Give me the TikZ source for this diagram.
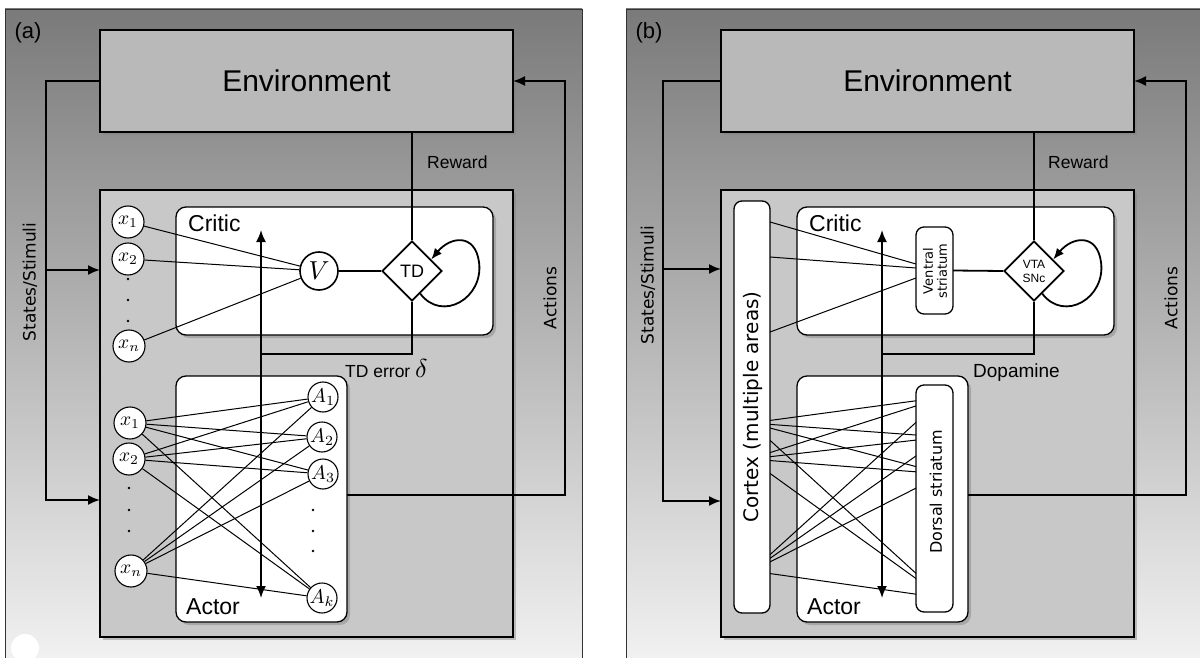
\documentclass[tikz,border=0pt]{standalone}
\usepackage{fontspec}
\newfontfamily\hv{Liberation Sans}
\newfontfamily\dv{DejaVu Sans}
\usetikzlibrary{arrows.meta,shapes.geometric,shadows,calc}
\definecolor{frametop}{HTML}{7A7A7A}
\definecolor{framebot}{HTML}{F5F5F5}
\definecolor{envfill}{HTML}{B9B9B9}
\definecolor{agentfill}{HTML}{C8C8C8}
\newcommand{\mbig}[2]{\scalebox{#1}{$#2$}}
\begin{document}
\begin{tikzpicture}[x=1pt,y=-1pt,
  shadowed/.style={drop shadow={shadow xshift=3pt,shadow yshift=-3pt,opacity=0.45}},
  envbox/.style={draw,line width=1.2pt,fill=envfill,shadowed,minimum width=413pt,minimum height=102pt,inner sep=0pt,outer sep=0pt,font=\hv\fontsize{30}{32}\selectfont},
  agentbox/.style={draw,line width=1.3pt,fill=agentfill,shadowed,inner sep=0pt,outer sep=0pt,minimum width=413pt,minimum height=447pt},
  panelbox/.style={draw,line width=1.3pt,fill=white,rounded corners=10pt,shadowed,inner sep=0pt,outer sep=0pt},
  roundbox/.style={draw,line width=1.3pt,fill=white,rounded corners=8pt,inner sep=0pt,outer sep=0pt},
  lbl/.style={inner sep=0pt,font=\hv\fontsize{23}{25}\selectfont},
  smlbl/.style={inner sep=0pt,font=\hv\fontsize{17.5}{19}\selectfont},
  sidelbl/.style={inner sep=0pt,rotate=90,font=\dv\fontsize{17}{19}\selectfont},
  xnode/.style={circle,draw,line width=1.1pt,fill=white,minimum size=32pt,inner sep=0pt,font=\fontsize{10}{12}\selectfont},
  anode/.style={circle,draw,line width=1.1pt,fill=white,minimum size=30pt,inner sep=0pt,font=\fontsize{10}{12}\selectfont},
  vnode/.style={circle,draw,line width=1.6pt,fill=white,minimum size=38pt,inner sep=0pt,font=\fontsize{10}{12}\selectfont},
  dnode/.style={diamond,draw,line width=1.8pt,fill=white,minimum width=60pt,minimum height=60pt,inner sep=0pt,aspect=1},
  med/.style={line width=1.8pt},
  thinl/.style={line width=1pt},
  tip/.style={-{Latex[length=12pt,width=10pt]}},
  looptip/.style={-{Latex[length=11pt,width=9pt]}},
  dtip/.style={{Latex[length=12pt,width=10pt]}-{Latex[length=12pt,width=10pt]}}
]
\useasboundingbox (0,0) rectangle (1200,658);
\clip (0,0) rectangle (1200,658);
\fill[white] (0,0) rectangle (1200,658);

% ---------- frames ----------
\shade[top color=frametop,bottom color=framebot] (5,9) rectangle (582,680);
\draw[line width=0.9pt,black!80] (5,9) rectangle (582,680);
\shade[top color=frametop,bottom color=framebot] (626,9) rectangle (1203,680);
\draw[line width=0.9pt,black!80] (626,9) rectangle (1203,680);
\fill[white] (25,648) circle (14);

\node[inner sep=0pt,font=\hv\fontsize{22}{24}\selectfont] (labA) at (28,33) {(a)};
\node[inner sep=0pt,font=\hv\fontsize{22}{24}\selectfont] (labB) at (649,33) {(b)};

% ================= PANEL A =================
\node[envbox] (envA) at (306.5,81) {Environment};
\node[agentbox] (agentA) at (306.5,413.5) {};
\node[panelbox,minimum width=317pt,minimum height=128pt] (criticA) at (334.5,271) {};
\node[panelbox,minimum width=171pt,minimum height=246pt] (actorA) at (261.5,499) {};
\node[lbl,anchor=base west] (criticAl) at (188,231) {Critic};
\node[lbl,anchor=base west] (actorAl) at (186,614) {Actor};

% feedback lines
\coordinate (inA1) at (100,270);
\coordinate (inA2) at (100,500);
\coordinate (cA) at (46,500);
\draw[med,tip] (envA.west) -| (cA) -- (inA2);
\draw[med,tip] (cA |- inA1) -- (inA1);
\coordinate (outA) at (347,495);
\coordinate (rA) at (565,495);
\draw[med,tip] (outA) -- (rA) |- (envA.east);
\node[sidelbl] (ssA) at (30,282) {States/Stimuli};
\node[sidelbl] (acA) at (550,298) {Actions};

% critic
\node[xnode] (cxA1) at (128,222) {\mbig{1.95}{x_1}};
\node[xnode] (cxA2) at (128,259) {\mbig{1.95}{x_2}};
\node[xnode] (cxAn) at (129,346) {\mbig{1.95}{x_n}};
\foreach \yy in {279,300,321} \fill (128,\yy) circle (1.3);
\node[vnode] (vA) at (319,271) {\mbig{2.6}{V}};
\node[dnode,font=\hv\fontsize{18}{20}\selectfont] (tdA) at (412,271) {TD};
\draw[thinl] (cxA1) -- (vA);
\draw[thinl] (cxA2) -- (vA);
\draw[thinl] (cxAn) -- (vA);
\draw[med] (vA) -- (tdA);
\draw[med] (envA.south -| tdA) -- (tdA.north);
\node[smlbl,anchor=base west] (rewA) at (427,168) {Reward};
\coordinate (loopA) at (479,262);
\draw[med,looptip] (tdA.-70) .. controls +(22,29) and +(5,36) .. (loopA) .. controls +(-4,-29) and +(19,-23) .. (tdA.31);

% actor
\node[xnode] (axA1) at (130,423) {\mbig{1.95}{x_1}};
\node[xnode] (axA2) at (129,459) {\mbig{1.95}{x_2}};
\node[xnode] (axAn) at (131,571) {\mbig{1.95}{x_n}};
\foreach \yy in {488,510,531} \fill (129,\yy) circle (1.3);
\node[anode] (aA1) at (323,397) {\mbig{2.0}{A_1}};
\node[anode] (aA2) at (322,437) {\mbig{2.0}{A_2}};
\node[anode] (aA3) at (323,474) {\mbig{2.0}{A_3}};
\node[anode] (aAk) at (322,598) {\mbig{2.0}{A_k}};
\foreach \yy in {510,531,551} \fill (313,\yy) circle (1.3);
\foreach \s in {axA1,axA2,axAn}
  \foreach \t in {aA1,aA2,aA3,aAk}
    \draw[thinl] (\s) -- (\t);

% TD error and vertical arrow
\coordinate (vtA) at (261,230);
\coordinate (vbA) at (261,598);
\coordinate (tdjA) at (261,354);
\draw[med] (tdA.south) |- (tdjA);
\draw[med,dtip] (vbA) -- (vtA);
\node[smlbl,anchor=base west] (tdeA) at (345,377) {TD error {\fontsize{10}{12}\selectfont\mbig{2.6}{\delta}}};

% ================= PANEL B =================
\node[envbox] (envB) at (927.5,81) {Environment};
\node[agentbox] (agentB) at (927.5,413.5) {};
\node[panelbox,minimum width=317pt,minimum height=128pt] (criticB) at (955.5,271) {};
\node[panelbox,minimum width=171pt,minimum height=246pt] (actorB) at (882.5,499) {};
\node[lbl,anchor=base west] (criticBl) at (809,231) {Critic};
\node[lbl,anchor=base west] (actorBl) at (807,614) {Actor};

% feedback lines
\coordinate (inB1) at (721,269);
\coordinate (inB2) at (721,501);
\coordinate (cB) at (663,501);
\draw[med,tip] (envB.west) -| (cB) -- (inB2);
\draw[med,tip] (cB |- inB1) -- (inB1);
\coordinate (outB) at (968,495);
\coordinate (rB) at (1186,495);
\draw[med,tip] (outB) -- (rB) |- (envB.east);
\node[sidelbl] (ssB) at (648,285) {States/Stimuli};
\node[sidelbl] (acB) at (1171,298) {Actions};

% boxes
\node[roundbox,minimum width=36pt,minimum height=412pt] (cortex) at (752,407) {};
\node[sidelbl,font=\dv\fontsize{20}{22}\selectfont] (cortexl) at (753,407) {Cortex (multiple areas)};
\node[roundbox,minimum width=37pt,minimum height=87pt] (ventral) at (934.5,270.5) {};
\node[sidelbl,align=center,font=\dv\fontsize{13}{14}\selectfont] (ventrall) at (935,271) {Ventral\\striatum};
\node[roundbox,minimum width=37pt,minimum height=227pt] (dorsal) at (934.5,498.5) {};
\node[sidelbl,font=\dv\fontsize{16}{18}\selectfont] (dorsall) at (936,492) {Dorsal striatum};
\node[dnode,align=center,font=\hv\fontsize{12}{14}\selectfont] (vta) at (1034,271) {VTA\\SNc};

% critic lines
\coordinate (bc1) at (770,222);
\coordinate (bc2) at (770,257);
\coordinate (bc3) at (770,332);
\coordinate (bv1) at (916,264);
\coordinate (bv2) at (916,268);
\coordinate (bv3) at (916,278);
\draw[thinl] (bc1) -- (bv1);
\draw[thinl] (bc2) -- (bv2);
\draw[thinl] (bc3) -- (bv3);
\draw[med] (ventral.east) -- (vta.west);
\draw[med] (envB.south -| vta) -- (vta.north);
\node[smlbl,anchor=base west] (rewB) at (1048,168) {Reward};
\coordinate (loopB) at (1101,262);
\draw[med,looptip] (vta.-70) .. controls +(22,29) and +(5,36) .. (loopB) .. controls +(-4,-29) and +(19,-23) .. (vta.31);

% actor lines (cortex to dorsal striatum)
\coordinate (bx1) at (751,423);
\coordinate (bx2) at (750,459);
\coordinate (bxn) at (752,571);
\coordinate (ba1) at (944,397);
\coordinate (ba2) at (943,437);
\coordinate (ba3) at (944,474);
\coordinate (bak) at (943,598);
\begin{scope}
  \clip (770,0) rectangle (916,700);
  \foreach \s in {bx1,bx2,bxn}
    \foreach \t in {ba1,ba2,ba3,bak}
      \draw[thinl] (\s) -- (\t);
\end{scope}

% dopamine and vertical arrow
\coordinate (vtB) at (882,230);
\coordinate (vbB) at (882,598);
\coordinate (tdjB) at (882,354);
\draw[med] (vta.south) |- (tdjB);
\draw[med,dtip] (vbB) -- (vtB);
\node[smlbl,anchor=base west,font=\hv\fontsize{19}{21}\selectfont] (dopB) at (973,377) {Dopamine};
\end{tikzpicture}
\end{document}
